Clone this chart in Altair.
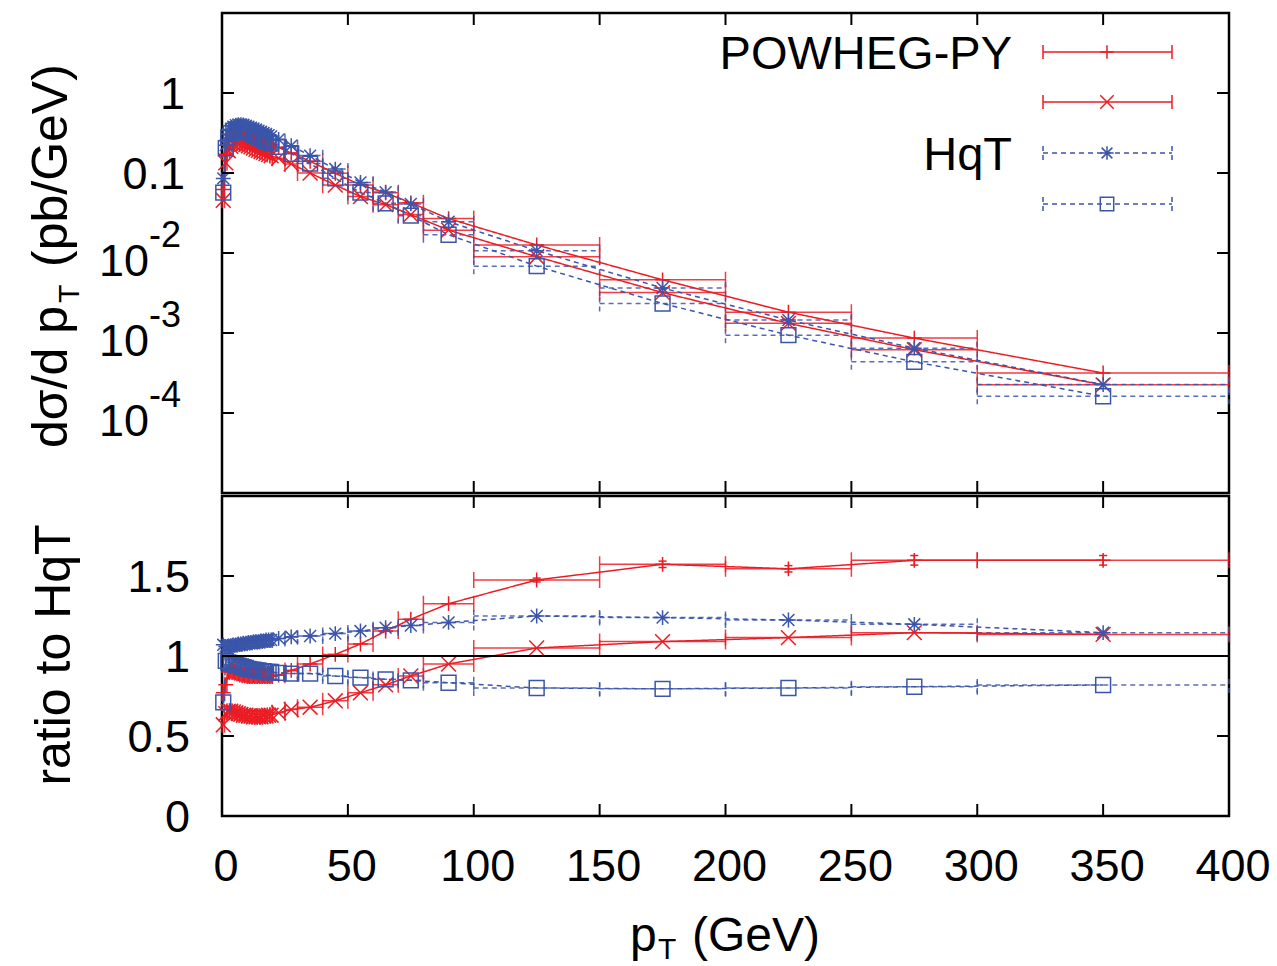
import altair as alt
import pandas as pd

# ---------------- data ----------------
bin_lo = [0, 1, 2, 3, 4, 5, 6, 7, 8, 9, 10, 11, 12, 13, 14, 15, 16, 17, 18, 19,
          20, 25, 30, 40, 50, 60, 70, 80, 100, 150, 200, 250, 300]
bin_hi = [1, 2, 3, 4, 5, 6, 7, 8, 9, 10, 11, 12, 13, 14, 15, 16, 17, 18, 19, 20,
          25, 30, 40, 50, 60, 70, 80, 100, 150, 200, 250, 300, 400]

xsec_powheg_1 = [0.062, 0.172, 0.261, 0.299, 0.320, 0.331, 0.334, 0.332, 0.326, 0.317,
                 0.306, 0.298, 0.289, 0.280, 0.271, 0.263, 0.254, 0.245, 0.236, 0.228,
                 0.209, 0.178, 0.140, 0.099, 0.071, 0.0566, 0.0424, 0.0269, 0.0126,
                 0.00462, 0.00182, 0.000863, 0.000316]
xsec_powheg_2 = [0.0456, 0.134, 0.190, 0.216, 0.231, 0.239, 0.240, 0.238, 0.233, 0.227,
                 0.219, 0.2125, 0.205, 0.198, 0.192, 0.186, 0.181, 0.175, 0.170, 0.164,
                 0.153, 0.130, 0.100, 0.0706, 0.0508, 0.0402, 0.0302, 0.0193, 0.00899,
                 0.00320, 0.00132, 0.000619, 0.000225]
xsec_hqt_1 = [0.0856, 0.223, 0.307, 0.351, 0.380, 0.396, 0.403, 0.403, 0.400, 0.389,
              0.380, 0.369, 0.360, 0.349, 0.338, 0.3285, 0.3175, 0.308, 0.297, 0.286,
              0.263, 0.2195, 0.165, 0.112, 0.0763, 0.0577, 0.0411, 0.0246, 0.0107,
              0.00365, 0.00145, 0.000647, 0.000227]
xsec_hqt_2 = [0.0568, 0.204, 0.278, 0.315, 0.337, 0.350, 0.3525, 0.351, 0.344, 0.333,
              0.322, 0.311, 0.302, 0.291, 0.282, 0.2715, 0.262, 0.252, 0.243, 0.234,
              0.212, 0.174, 0.131, 0.0858, 0.0571, 0.0418, 0.0293, 0.0169, 0.00685,
              0.00234, 0.00094, 0.000436, 0.000162]

ratio_powheg_1 = [0.77, 0.82, 0.90, 0.905, 0.90, 0.895, 0.89, 0.885, 0.88, 0.88,
                  0.875, 0.875, 0.875, 0.875, 0.875, 0.875, 0.875, 0.875, 0.875, 0.875,
                  0.88, 0.91, 0.95, 1.01, 1.075, 1.156, 1.23, 1.327, 1.475,
                  1.573, 1.545, 1.598, 1.598]
ratio_powheg_2 = [0.57, 0.64, 0.655, 0.655, 0.65, 0.645, 0.64, 0.635, 0.63, 0.63,
                  0.625, 0.625, 0.62, 0.62, 0.62, 0.62, 0.625, 0.625, 0.63, 0.63,
                  0.645, 0.665, 0.68, 0.72, 0.77, 0.82, 0.875, 0.95, 1.05,
                  1.09, 1.115, 1.146, 1.135]
ratio_hqt_1 = [1.07, 1.06, 1.06, 1.065, 1.07, 1.07, 1.075, 1.075, 1.08, 1.08,
               1.085, 1.085, 1.09, 1.09, 1.09, 1.095, 1.095, 1.10, 1.10, 1.10,
               1.11, 1.12, 1.125, 1.14, 1.156, 1.177, 1.19, 1.21, 1.25,
               1.24, 1.225, 1.198, 1.146]
ratio_hqt_2 = [0.71, 0.97, 0.96, 0.955, 0.95, 0.945, 0.94, 0.935, 0.93, 0.925,
               0.92, 0.915, 0.915, 0.91, 0.91, 0.905, 0.905, 0.90, 0.90, 0.90,
               0.895, 0.89, 0.89, 0.875, 0.865, 0.854, 0.848, 0.833, 0.80,
               0.795, 0.80, 0.808, 0.819]

err_ratio_powheg_1 = [0, 0, 0, 0, 0, 0, 0, 0, 0, 0, 0, 0, 0, 0, 0, 0, 0, 0, 0, 0,
                      0, 0, 0, 0, 0, 0, 0, 0, 0.012, 0.02, 0.02, 0.03, 0.03]
err_zero = [0] * 33

series_names = ["POWHEG-PY", "POWHEG-PY (2)", "HqT", "HqT (2)"]
legend_labels = ["POWHEG-PY", "", "HqT", ""]

x_ticks = [0, 50, 100, 150, 200, 250, 300, 350, 400]
x_tick_labels = ["0", "50", "100", "150", "200", "250", "300", "350", "400"]
top_y_ticks = [1, 0.1, 0.01, 0.001, 0.0001]
top_y_tick_base = ["1", "0.1", "10", "10", "10"]
top_y_tick_exp = ["", "", "-2", "-3", "-4"]
bottom_y_ticks = [0, 0.5, 1, 1.5]
bottom_y_tick_labels = ["0", "0.5", "1", "1.5"]
reference_ratio = [1.0]

# ---------------- styles ----------------
RED = "#ec1c24"
BLUE = "#3a55a9"
FONT = "Liberation Sans"
W, HT, HB = 1007, 480, 320
LW = 1.5
TICK_FS = 45
MSIZE = 220

plus_path = "M-1,0L1,0M0,-1L0,1"
cross_path = "M-1,-1L1,1M-1,1L1,-1"
star_path = "M-1,0L1,0M0,-1L0,1M-0.8,-0.8L0.8,0.8M-0.8,0.8L0.8,-0.8"

colors = [RED, RED, BLUE, BLUE]
dashes = [[1, 0], [1, 0], [5, 4], [5, 4]]
shapes = [plus_path, cross_path, star_path, "square"]

rows = []
for name, xs, rs, es in zip(series_names,
                            [xsec_powheg_1, xsec_powheg_2, xsec_hqt_1, xsec_hqt_2],
                            [ratio_powheg_1, ratio_powheg_2, ratio_hqt_1, ratio_hqt_2],
                            [err_ratio_powheg_1, err_zero, err_zero, err_zero]):
    for lo, hi, v, r, e in zip(bin_lo, bin_hi, xs, rs, es):
        rows.append(dict(series=name, lo=lo, hi=hi, c=(lo + hi) / 2, val=v, ratio=r, err=e))
df = pd.DataFrame(rows)
dummy = pd.DataFrame({"k": [0]})

col = alt.Color("series:N", scale=alt.Scale(domain=series_names, range=colors), legend=None)
dash = alt.StrokeDash("series:N", scale=alt.Scale(domain=series_names, range=dashes), legend=None)
shp = alt.Shape("series:N", scale=alt.Scale(domain=series_names, range=shapes), legend=None)

xscale = alt.Scale(domain=[0, 400], nice=False, zero=False)
ytop = alt.Scale(type="log", domain=[1e-5, 10], nice=False)
ybot = alt.Scale(domain=[0, 2], nice=False, zero=False)


def X(f):
    return alt.X(f, type="quantitative", scale=xscale, axis=None)


def data_layers(yfield, yscale, cap_lo, cap_hi):
    def Y(f):
        return alt.Y(f, type="quantitative", scale=yscale, axis=None)
    base = alt.Chart(df)
    hb = base.mark_rule(strokeWidth=LW, opacity=0.85).encode(
        x=X("lo"), x2="hi:Q", y=Y(yfield), color=col, strokeDash=dash)
    caps = base.transform_fold(["lo", "hi"], as_=["end", "edge"]).transform_calculate(
        ya=cap_lo, yb=cap_hi).mark_rule(strokeWidth=LW, opacity=0.85).encode(
        x=X("edge"), y=Y("ya"), y2="yb:Q", color=col, strokeDash=dash)
    ln = base.mark_line(strokeWidth=LW).encode(
        x=X("c"), y=Y(yfield), detail="series:N", color=col, strokeDash=dash)
    pts = base.mark_point(filled=False, size=MSIZE, strokeWidth=LW, opacity=1).encode(
        x=X("c"), y=Y(yfield), shape=shp, color=col)
    return [hb, caps, ln, pts], Y


def frame_ticks(yscale, yticks, H):
    def Y(f):
        return alt.Y(f, type="quantitative", scale=yscale, axis=None)
    xt = pd.DataFrame({"t": x_ticks})
    yt = pd.DataFrame({"v": yticks})
    L = []
    L.append(alt.Chart(xt).mark_rule(color="black", strokeWidth=2).encode(
        x=X("t"), y=alt.value(H), y2=alt.value(H - 12)))
    L.append(alt.Chart(xt).mark_rule(color="black", strokeWidth=2).encode(
        x=X("t"), y=alt.value(0), y2=alt.value(12)))
    L.append(alt.Chart(yt).mark_rule(color="black", strokeWidth=2).encode(
        y=Y("v"), x=alt.value(0), x2=alt.value(12)))
    L.append(alt.Chart(yt).mark_rule(color="black", strokeWidth=2).encode(
        y=Y("v"), x=alt.value(W), x2=alt.value(W - 12)))
    return L


# ---------------- top panel ----------------
top_layers, Ytop = data_layers("val", ytop, "datum.val/1.26", "datum.val*1.26")
top_layers += frame_ticks(ytop, top_y_ticks, HT)

ylab = pd.DataFrame({"v": top_y_ticks, "base": top_y_tick_base, "exp": top_y_tick_exp})
top_layers.append(alt.Chart(ylab).transform_filter("datum.exp == ''").mark_text(
    font=FONT, fontSize=TICK_FS, align="right", baseline="alphabetic", dy=16).encode(
    y=Ytop("v"), x=alt.value(-37), text="base:N"))
top_layers.append(alt.Chart(ylab).transform_filter("datum.exp != ''").mark_text(
    font=FONT, fontSize=TICK_FS, align="right", baseline="alphabetic", dy=23).encode(
    y=Ytop("v"), x=alt.value(-73), text="base:N"))
top_layers.append(alt.Chart(ylab).transform_filter("datum.exp != ''").mark_text(
    font=FONT, fontSize=36, align="left", baseline="alphabetic", dy=-6).encode(
    y=Ytop("v"), x=alt.value(-73), text="exp:N"))

# y title (rotated): d sigma / d p_T (pb/GeV)
for txt, xv, yv, fs in [("dσ/d p", -155, 435, 50), ("T", -143, 290, 30), ("(pb/GeV)", -155, 254, 50)]:
    top_layers.append(alt.Chart(dummy).mark_text(
        font=FONT, fontSize=fs, angle=270, align="left", baseline="alphabetic", text=txt).encode(
        x=alt.value(xv), y=alt.value(yv)))

# legend
leg_y = [39, 89, 140, 191]
for name, lab, ly, c, d, s in zip(series_names, legend_labels, leg_y, colors, dashes, shapes):
    top_layers.append(alt.Chart(dummy).mark_rule(color=c, strokeWidth=LW, strokeDash=d).encode(
        x=alt.value(821), x2=alt.value(950), y=alt.value(ly)))
    for ex in (821, 950):
        top_layers.append(alt.Chart(dummy).mark_rule(color=c, strokeWidth=LW, strokeDash=d).encode(
            x=alt.value(ex), y=alt.value(ly - 7), y2=alt.value(ly + 7)))
    top_layers.append(alt.Chart(dummy).mark_point(
        shape=s, filled=False, size=MSIZE - 40, strokeWidth=LW, color=c, opacity=1).encode(
        x=alt.value(885), y=alt.value(ly)))
    if lab:
        top_layers.append(alt.Chart(dummy).mark_text(
            font=FONT, fontSize=47, align="right", baseline="alphabetic", text=lab).encode(
            x=alt.value(790), y=alt.value(ly + 17)))

# invisible anchor fixing the page's top-left corner
top_layers.append(alt.Chart(dummy).mark_rule(opacity=0).encode(
    x=alt.value(-220), x2=alt.value(-219), y=alt.value(-11), y2=alt.value(-10)))

top = alt.layer(*top_layers).properties(width=W, height=HT)

# ---------------- bottom panel ----------------
bot_layers, Ybot = data_layers("ratio", ybot, "datum.ratio-0.05", "datum.ratio+0.05")
bot_layers += frame_ticks(ybot, bottom_y_ticks + [2], HB)

# ratio = 1 reference line
bot_layers.append(alt.Chart(pd.DataFrame({"one": reference_ratio})).mark_rule(
    color="black", strokeWidth=2).encode(y=Ybot("one"), x=alt.value(0), x2=alt.value(W)))

# vertical error bars
eb = alt.Chart(df).transform_filter("datum.err > 0").transform_calculate(
    elo="datum.ratio-datum.err", ehi="datum.ratio+datum.err",
    ca="datum.c-1.6", cb="datum.c+1.6")
bot_layers.append(eb.mark_rule(strokeWidth=LW).encode(
    x=X("c"), y=Ybot("elo"), y2="ehi:Q", color=col))
for f in ("elo", "ehi"):
    bot_layers.append(eb.mark_rule(strokeWidth=LW).encode(
        x=X("ca"), x2="cb:Q", y=Ybot(f), color=col))

blab = pd.DataFrame({"v": bottom_y_ticks, "lab": bottom_y_tick_labels})
bot_layers.append(alt.Chart(blab).mark_text(
    font=FONT, fontSize=TICK_FS, align="right", baseline="alphabetic", dy=16).encode(
    y=Ybot("v"), x=alt.value(-32), text="lab:N"))

xlab = pd.DataFrame({"t": x_ticks, "lab": x_tick_labels})
bot_layers.append(alt.Chart(xlab).mark_text(
    font=FONT, fontSize=TICK_FS, align="center", baseline="alphabetic", dx=4).encode(
    x=X("t"), y=alt.value(385), text="lab:N"))

# x title p_T (GeV)
for txt, xv, yv, fs in [("p", 408, 455, 48), ("T", 436, 463, 30), ("(GeV)", 470, 455, 48)]:
    bot_layers.append(alt.Chart(dummy).mark_text(
        font=FONT, fontSize=fs, align="left", baseline="alphabetic", text=txt).encode(
        x=alt.value(xv), y=alt.value(yv)))

# y title
bot_layers.append(alt.Chart(dummy).mark_text(
    font=FONT, fontSize=50, angle=270, align="center", baseline="alphabetic",
    text="ratio to HqT").encode(x=alt.value(-152), y=alt.value(159)))

bot_layers.append(alt.Chart(dummy).mark_rule(opacity=0).encode(
    x=alt.value(-220), x2=alt.value(-219), y=alt.value(2), y2=alt.value(3)))

bottom = alt.layer(*bot_layers).properties(width=W, height=HB)

chart = alt.vconcat(top, bottom, spacing=-4).properties(
    padding={"left": 0, "top": 0, "right": 0, "bottom": 0}
).configure_view(stroke="black", strokeWidth=2.5)

chart.save("out.html", embed_options={"renderer": "svg", "actions": False})
